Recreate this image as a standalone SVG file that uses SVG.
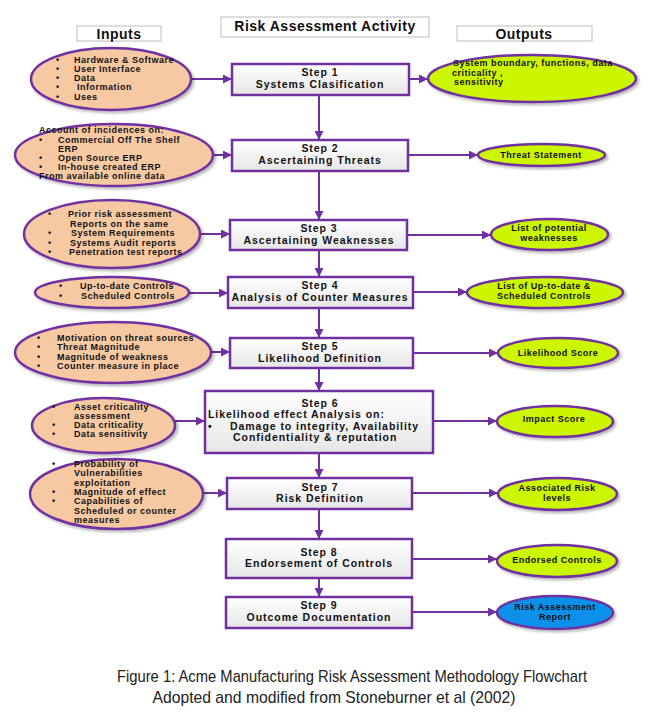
<svg xmlns="http://www.w3.org/2000/svg" width="657" height="720" viewBox="0 0 657 720">
<defs>
<linearGradient id="boxg" x1="0" y1="0" x2="0" y2="1">
<stop offset="0" stop-color="#ffffff"/><stop offset="1" stop-color="#e6e6e6"/>
</linearGradient>
<filter id="sh" x="-10%" y="-20%" width="125%" height="150%">
<feDropShadow dx="2" dy="2" stdDeviation="1.5" flood-color="#000" flood-opacity="0.3"/>
</filter>
<marker id="ah" viewBox="0 0 10 10" refX="10" refY="5" markerWidth="4.5" markerHeight="4.5" markerUnits="strokeWidth" orient="auto">
<path d="M0,0 L10,5 L0,10 z" fill="#7030a0"/>
</marker>
<style>
.in{fill:#f7c9a3;stroke:#7030a0;stroke-width:2.5;filter:url(#sh)}
.out{fill:#ccf500;stroke:#7030a0;stroke-width:2.5;filter:url(#sh)}
.blue{fill:#0a90ea;stroke:#7030a0;stroke-width:2.5;filter:url(#sh)}
.box{fill:url(#boxg);stroke:#7030a0;stroke-width:2.5}
.hdr{fill:#fff;stroke:#c8c8c8;stroke-width:1.2}
.t{font-family:"Liberation Sans",Arial,sans-serif;font-weight:bold;font-size:9px;letter-spacing:0.5px;fill:#111}
.s{font-family:"Liberation Sans",Arial,sans-serif;font-weight:bold;font-size:10.5px;letter-spacing:0.95px;fill:#111}
.h{font-family:"Liberation Sans",Arial,sans-serif;font-weight:bold;font-size:14px;letter-spacing:0.5px;fill:#111}
.c{font-family:"Liberation Sans Narrow","Liberation Sans",Arial,sans-serif;font-size:17px;fill:#222}
.m{text-anchor:middle}
.con{stroke:#7030a0;stroke-width:2;fill:none}
</style>
</defs>
<rect width="657" height="720" fill="#fff"/>

<g id="headers">
<rect class="hdr" x="77" y="26" width="84" height="15"/>
<text class="h m" x="119" y="38.5">Inputs</text>
<rect class="hdr" x="221" y="17" width="208" height="20"/>
<text class="h m" x="325" y="31">Risk Assessment Activity</text>
<rect class="hdr" x="457" y="26" width="135" height="15"/>
<text class="h m" x="524" y="38.5">Outputs</text>
</g>

<g id="connectors">
<line class="con" x1="319" y1="95" x2="319" y2="140" marker-end="url(#ah)"/>
<line class="con" x1="319" y1="171" x2="319" y2="220" marker-end="url(#ah)"/>
<line class="con" x1="319" y1="250" x2="319" y2="277" marker-end="url(#ah)"/>
<line class="con" x1="319" y1="308" x2="319" y2="338" marker-end="url(#ah)"/>
<line class="con" x1="319" y1="368" x2="319" y2="391" marker-end="url(#ah)"/>
<line class="con" x1="319" y1="453" x2="319" y2="478" marker-end="url(#ah)"/>
<line class="con" x1="319" y1="509" x2="319" y2="539" marker-end="url(#ah)"/>
<line class="con" x1="319" y1="578" x2="319" y2="597" marker-end="url(#ah)"/>

<line class="con" x1="192" y1="79" x2="232" y2="79" marker-end="url(#ah)"/>
<line class="con" x1="213" y1="155" x2="232" y2="155" marker-end="url(#ah)"/>
<line class="con" x1="200" y1="234" x2="230" y2="234" marker-end="url(#ah)"/>
<line class="con" x1="189" y1="293" x2="228" y2="293" marker-end="url(#ah)"/>
<line class="con" x1="211" y1="352" x2="230" y2="352" marker-end="url(#ah)"/>
<line class="con" x1="175" y1="421" x2="205" y2="421" marker-end="url(#ah)"/>
<line class="con" x1="203" y1="493" x2="227" y2="493" marker-end="url(#ah)"/>

<line class="con" x1="409" y1="79" x2="428" y2="79" marker-end="url(#ah)"/>
<line class="con" x1="409" y1="155" x2="478" y2="155" marker-end="url(#ah)"/>
<line class="con" x1="407" y1="235" x2="491" y2="235" marker-end="url(#ah)"/>
<line class="con" x1="413" y1="292" x2="467" y2="292" marker-end="url(#ah)"/>
<line class="con" x1="413" y1="353" x2="498" y2="353" marker-end="url(#ah)"/>
<line class="con" x1="433" y1="421" x2="497" y2="421" marker-end="url(#ah)"/>
<line class="con" x1="412" y1="493" x2="498" y2="493" marker-end="url(#ah)"/>
<line class="con" x1="412" y1="559" x2="497" y2="559" marker-end="url(#ah)"/>
<line class="con" x1="412" y1="612" x2="497" y2="612" marker-end="url(#ah)"/>
</g>

<g id="step1"><rect class="box" x="232" y="64" width="177" height="31"/>
<text class="s m" x="320" y="76">Step 1</text><text class="s m" x="320" y="87.5">Systems Clasification</text></g>
<g id="step2"><rect class="box" x="232" y="140" width="176" height="31"/>
<text class="s m" x="320" y="152">Step 2</text><text class="s m" x="320" y="163.5">Ascertaining Threats</text></g>
<g id="step3"><rect class="box" x="230" y="220" width="177" height="30"/>
<text class="s m" x="319" y="232">Step 3</text><text class="s m" x="319" y="243.5">Ascertaining Weaknesses</text></g>
<g id="step4"><rect class="box" x="228" y="277" width="185" height="31"/>
<text class="s m" x="320" y="289">Step 4</text><text class="s m" x="320" y="301">Analysis of Counter Measures</text></g>
<g id="step5"><rect class="box" x="230" y="338" width="183" height="30"/>
<text class="s m" x="320" y="350">Step 5</text><text class="s m" x="320" y="362">Likelihood Definition</text></g>
<g id="step6"><rect class="box" x="205" y="391" width="228" height="62"/>
<text class="s m" x="320" y="406.5">Step 6</text>
<text class="s" x="208" y="418">Likelihood effect Analysis on:</text>
<text class="s" x="208" y="429.5">•</text>
<text class="s" x="230" y="429.5">Damage to integrity, Availability</text>
<text class="s" x="233" y="441">Confidentiality &amp; reputation</text></g>
<g id="step7"><rect class="box" x="227" y="478" width="185" height="31"/>
<text class="s m" x="320" y="490.5">Step 7</text><text class="s m" x="320" y="502">Risk Definition</text></g>
<g id="step8"><rect class="box" x="226" y="539" width="186" height="39"/>
<text class="s m" x="319" y="555.5">Step 8</text><text class="s m" x="319" y="567">Endorsement of Controls</text></g>
<g id="step9"><rect class="box" x="226" y="597" width="186" height="31"/>
<text class="s m" x="319" y="609">Step 9</text><text class="s m" x="319" y="620.5">Outcome Documentation</text></g>

<g id="input1"><ellipse class="in" cx="111" cy="79" rx="80" ry="31"/>
<text class="t" x="56" y="62.5">•</text><text class="t" x="74" y="62.5">Hardware &amp; Software</text>
<text class="t" x="56" y="71.8">•</text><text class="t" x="74" y="71.8">User Interface</text>
<text class="t" x="56" y="81.1">•</text><text class="t" x="74" y="81.1">Data</text>
<text class="t" x="56" y="90.4">•</text><text class="t" x="77" y="90.4">Information</text>
<text class="t" x="56" y="99.7">•</text><text class="t" x="74" y="99.7">Uses</text></g>

<g id="input2"><ellipse class="in" cx="114" cy="155" rx="99" ry="31"/>
<text class="t" x="39" y="133">Account  of incidences on:</text>
<text class="t" x="39" y="143">•</text><text class="t" x="58" y="143">Commercial Off The Shelf</text>
<text class="t" x="58" y="152">ERP</text>
<text class="t" x="39" y="161">•</text><text class="t" x="58" y="161">Open Source ERP</text>
<text class="t" x="39" y="170">•</text><text class="t" x="58" y="170">In-house created ERP</text>
<text class="t" x="39" y="179">From available online data</text></g>

<g id="input3"><ellipse class="in" cx="112" cy="234" rx="88" ry="34"/>
<text class="t" x="48" y="217">•</text><text class="t" x="68" y="217">Prior risk assessment</text>
<text class="t" x="70" y="226.5">Reports on the same</text>
<text class="t" x="48" y="236">•</text><text class="t" x="71" y="236">System Requirements</text>
<text class="t" x="48" y="245.5">•</text><text class="t" x="70" y="245.5">Systems Audit reports</text>
<text class="t" x="48" y="255">•</text><text class="t" x="69" y="255">Penetration test reports</text></g>

<g id="input4"><ellipse class="in" cx="112" cy="292.5" rx="77" ry="15.5"/>
<text class="t" x="59" y="289">•</text><text class="t" x="80" y="289">Up-to-date Controls</text>
<text class="t" x="59" y="298.5">•</text><text class="t" x="81" y="298.5">Scheduled Controls</text></g>

<g id="input5"><ellipse class="in" cx="113" cy="352.5" rx="98" ry="30.5"/>
<text class="t" x="37" y="341">•</text><text class="t" x="57" y="341">Motivation on  threat sources</text>
<text class="t" x="37" y="350.3">•</text><text class="t" x="57" y="350.3">Threat Magnitude</text>
<text class="t" x="37" y="359.6">•</text><text class="t" x="57" y="359.6">Magnitude  of weakness</text>
<text class="t" x="37" y="369">•</text><text class="t" x="57" y="369">Counter measure in place</text></g>

<g id="input6"><ellipse class="in" cx="103.5" cy="425.5" rx="71.5" ry="27.5"/>
<text class="t" x="52" y="410">•</text><text class="t" x="74" y="410">Asset criticality</text>
<text class="t" x="74" y="419">assessment</text>
<text class="t" x="52" y="428">•</text><text class="t" x="74" y="428">Data criticality</text>
<text class="t" x="52" y="437">•</text><text class="t" x="74" y="437">Data sensitivity</text></g>

<g id="input7"><ellipse class="in" cx="116.5" cy="494" rx="86.5" ry="35"/>
<text class="t" x="52" y="467">•</text><text class="t" x="74" y="467">Probability of</text>
<text class="t" x="74" y="476.3">Vulnerabilities</text>
<text class="t" x="74" y="485.6">exploitation</text>
<text class="t" x="52" y="494.9">•</text><text class="t" x="74" y="494.9">Magnitude of effect</text>
<text class="t" x="52" y="504.2">•</text><text class="t" x="74" y="504.2">Capabilities  of</text>
<text class="t" x="74" y="513.5">Scheduled or counter</text>
<text class="t" x="74" y="522.8">measures</text></g>

<g id="output1"><ellipse class="out" cx="532" cy="78.5" rx="104" ry="23.5"/>
<text class="t" x="453" y="66">System boundary,  functions, data</text>
<text class="t" x="452" y="75.5">criticality ,</text>
<text class="t" x="454" y="85">sensitivity</text></g>
<g id="output2"><ellipse class="out" cx="541.5" cy="155" rx="63.5" ry="11"/>
<text class="t m" x="541" y="157.5">Threat Statement</text></g>
<g id="output3"><ellipse class="out" cx="549.5" cy="234.5" rx="58.5" ry="15.5"/>
<text class="t m" x="549" y="231">List of potential</text>
<text class="t m" x="549" y="241">weaknesses</text></g>
<g id="output4"><ellipse class="out" cx="545" cy="292.5" rx="78" ry="15.5"/>
<text class="t m" x="544" y="289">List of Up-to-date &amp;</text>
<text class="t m" x="544" y="299">Scheduled Controls</text></g>
<g id="output5"><ellipse class="out" cx="558" cy="353" rx="60" ry="15"/>
<text class="t m" x="558" y="355.5">Likelihood  Score</text></g>
<g id="output6"><ellipse class="out" cx="555" cy="421.5" rx="58" ry="15.5"/>
<text class="t m" x="554" y="422">Impact Score</text></g>
<g id="output7"><ellipse class="out" cx="557.5" cy="494" rx="59.5" ry="16"/>
<text class="t m" x="557" y="491">Associated Risk</text>
<text class="t m" x="557" y="501">levels</text></g>
<g id="output8"><ellipse class="out" cx="557" cy="561" rx="60" ry="16"/>
<text class="t m" x="557" y="563">Endorsed Controls</text></g>
<g id="output9"><ellipse class="blue" cx="555" cy="612.5" rx="58" ry="16.5"/>
<text class="t m" x="555" y="610">Risk Assessment</text>
<text class="t m" x="555" y="620">Report</text></g>

<g id="caption">
<text class="c m" x="352" y="682" textLength="470" lengthAdjust="spacingAndGlyphs">Figure 1: Acme Manufacturing Risk Assessment Methodology Flowchart</text>
<text class="c m" x="334" y="703" textLength="363" lengthAdjust="spacingAndGlyphs">Adopted and modified from Stoneburner et al (2002)</text>
</g>
</svg>
